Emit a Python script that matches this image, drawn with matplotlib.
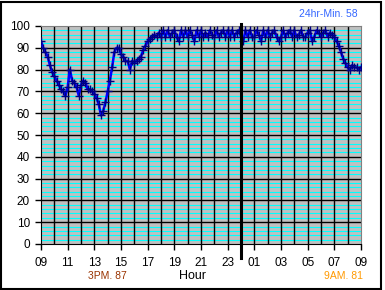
import numpy as np
import matplotlib
matplotlib.use('Agg')
import matplotlib.pyplot as plt
from matplotlib.patches import Rectangle

plt.rcParams['font.family'] = ['Liberation Sans', 'DejaVu Sans']

# readings every 10 minutes, starting 09:00
valores = [
    93, 90, 88, 86, 82, 79,
    77, 75, 73, 71, 70, 68,
    72, 80, 75, 74, 72, 68,
    73, 75, 74, 71, 71, 70,
    69, 67, 64, 59, 61, 65,
    70, 75, 81, 88, 90, 90,
    87, 86, 84, 84, 80, 84,
    83, 84, 85, 86, 89, 91,
    93, 94, 95, 96, 95, 97,
    95, 98, 95, 98, 95, 97,
    98, 95, 93, 98, 95, 98,
    95, 98, 96, 93, 98, 95,
    98, 95, 97, 95, 98, 96,
    95, 98, 95, 97, 98, 95,
    98, 95, 98, 95, 97, 98,
    95, 93, 98, 95, 98, 95,
    95, 98, 96, 93, 98, 95,
    98, 95, 97, 98, 95, 93,
    95, 98, 95, 97, 98, 95,
    98, 95, 96, 98, 95, 95,
    97, 98, 93, 95, 98, 97,
    95, 97, 98, 95, 97, 96,
    95, 93, 91, 88, 85, 83,
    81, 80, 82, 81, 81, 80,
    81,
]
horas = np.arange(len(valores)) / 6.0

etiquetas_x = ['09', '11', '13', '15', '17', '19', '21', '23',
               '01', '03', '05', '07', '09']
nota_min = '24hr-Min. 58'
nota_3pm = '3PM. 87'
nota_9am = '9AM. 81'

fig = plt.figure(figsize=(3.85, 2.90), dpi=100)
fig.patch.set_facecolor('white')
ax = fig.add_axes([41/385, 1 - 244/290, 320/385, 218/290])
ax.set_facecolor('#C0C0C0')

ax.set_xlim(0, 24)
ax.set_ylim(0, 100)

# grid: cyan every 2, black every 10, black every hour
for v in range(2, 100, 2):
    if v % 10:
        ax.axhline(v, color='#00FFFF', lw=0.8, zorder=1)
for v in range(10, 100, 10):
    ax.axhline(v, color='black', lw=1.0, zorder=1)
for h in range(1, 24):
    ax.axvline(h, color='black', lw=1.0, zorder=1)
# midnight
ax.plot([15, 15], [-6.5, 101], color='black', lw=2.2, clip_on=False, zorder=4)

ax.plot(horas, valores, color='#0000FF', lw=1.8, zorder=3,
        marker='+', markersize=6, markeredgecolor='#000080', markeredgewidth=1.0)

for s in ['top', 'right']:
    ax.spines[s].set_color('#808080')
for s in ['left', 'bottom']:
    ax.spines[s].set_color('black')

ax.set_xticks(range(0, 25, 2))
ax.set_xticklabels(etiquetas_x)
ax.set_yticks(range(0, 101, 10))
ax.tick_params(axis='both', direction='out', length=4, width=1, color='black',
               labelsize=8.5)
ax.tick_params(axis='x', pad=5)
ax.tick_params(axis='y', pad=4)

fig.text(193/385, 1 - 276/290, 'Hour', ha='center', va='center', fontsize=9)
fig.text(107/385, 1 - 276/290, nota_3pm, ha='center', va='center', fontsize=7.5, color='#993300')
fig.text(343/385, 1 - 276/290, nota_9am, ha='center', va='center', fontsize=7.5, color='#FF9900')
fig.text(328/385, 1 - 14/290, nota_min, ha='center', va='center', fontsize=7.5, color='#3366FF')

# outer frame
fig.patches.append(Rectangle((0.5/385, 1.5/290), 380/385, 287/290, transform=fig.transFigure,
                             fill=False, edgecolor='black', lw=1.5))

fig.savefig('out.png', dpi=100)
